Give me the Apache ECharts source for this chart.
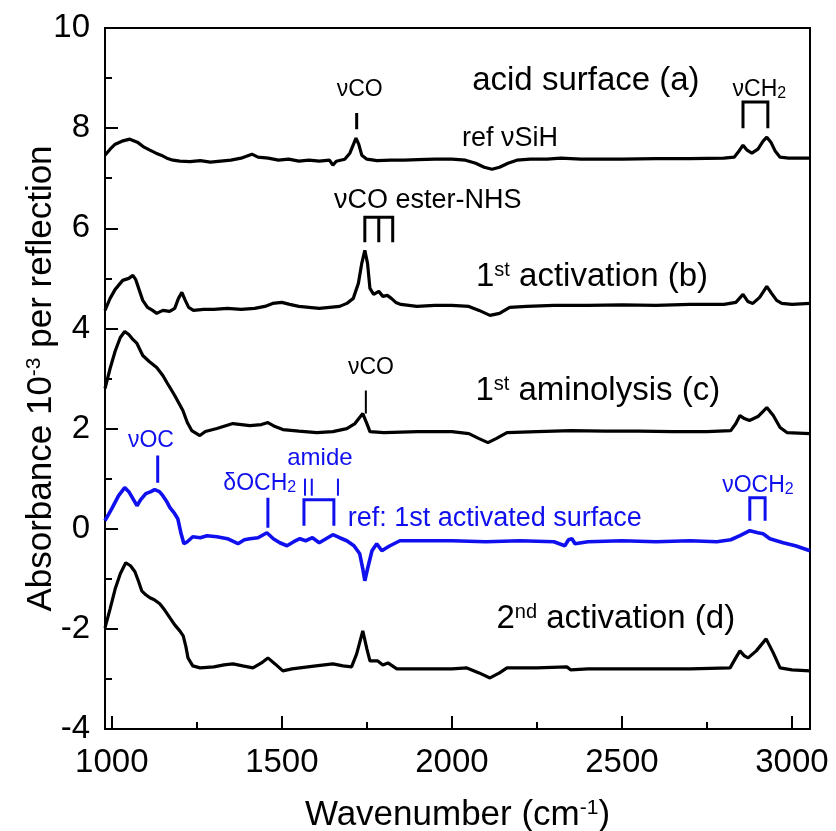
<!DOCTYPE html>
<html>
<head>
<meta charset="utf-8">
<script src="https://cdn.jsdelivr.net/npm/echarts@6/dist/echarts.min.js"></script>
<style>
body{margin:0;background:#fff;}
#main{width:836px;height:831px;}
</style>
</head>
<body>
<div id="main"></div>
<script>
// spectra: [wavenumber, absorbance]
var acidSurface = [[980,7.46],[995,7.58],[1010,7.68],[1030,7.74],[1053,7.78],[1075,7.72],[1095,7.62],[1112,7.56],[1130,7.5],[1145,7.46],[1162,7.4],[1180,7.36],[1200,7.34],[1230,7.33],[1260,7.35],[1290,7.32],[1320,7.34],[1350,7.36],[1380,7.4],[1412,7.48],[1430,7.42],[1460,7.4],[1490,7.36],[1520,7.38],[1550,7.34],[1580,7.36],[1610,7.34],[1640,7.36],[1650,7.26],[1660,7.34],[1685,7.38],[1700,7.5],[1712,7.7],[1718,7.8],[1726,7.68],[1735,7.46],[1750,7.38],[1780,7.35],[1820,7.36],[1860,7.36],[1900,7.37],[1950,7.38],[2000,7.38],[2040,7.36],[2070,7.3],[2095,7.22],[2118,7.18],[2140,7.22],[2165,7.3],[2191,7.36],[2230,7.38],[2280,7.38],[2320,7.4],[2380,7.38],[2450,7.38],[2500,7.38],[2600,7.39],[2700,7.39],[2800,7.4],[2830,7.42],[2845,7.55],[2856,7.66],[2868,7.56],[2882,7.5],[2900,7.58],[2915,7.74],[2926,7.82],[2938,7.72],[2950,7.55],[2965,7.42],[2990,7.4],[3053,7.4]];
var activation1 = [[980,4.36],[995,4.6],[1010,4.78],[1032,4.96],[1050,5.0],[1062,5.06],[1070,4.98],[1080,4.78],[1091,4.56],[1105,4.42],[1120,4.36],[1132,4.3],[1150,4.36],[1170,4.34],[1185,4.4],[1196,4.6],[1206,4.72],[1216,4.56],[1226,4.42],[1240,4.36],[1270,4.38],[1300,4.38],[1340,4.4],[1380,4.38],[1420,4.4],[1450,4.44],[1473,4.5],[1500,4.52],[1523,4.48],[1550,4.44],[1580,4.42],[1610,4.4],[1640,4.42],[1670,4.44],[1691,4.5],[1710,4.6],[1725,4.9],[1735,5.3],[1744,5.56],[1752,5.3],[1759,4.8],[1770,4.68],[1785,4.74],[1797,4.64],[1810,4.66],[1822,4.6],[1835,4.52],[1850,4.48],[1897,4.44],[1950,4.46],[2000,4.46],[2050,4.44],[2080,4.36],[2112,4.26],[2140,4.3],[2170,4.42],[2220,4.44],[2300,4.46],[2400,4.46],[2500,4.47],[2600,4.46],[2700,4.48],[2800,4.48],[2835,4.52],[2856,4.68],[2870,4.54],[2885,4.5],[2905,4.62],[2926,4.84],[2940,4.7],[2955,4.56],[2970,4.5],[3000,4.48],[3053,4.5]];
var aminolysis1 = [[980,2.8],[995,3.2],[1010,3.55],[1025,3.82],[1038,3.94],[1050,3.88],[1062,3.78],[1074,3.7],[1091,3.46],[1110,3.34],[1132,3.22],[1150,3.06],[1162,2.92],[1185,2.66],[1209,2.36],[1222,2.12],[1235,1.96],[1259,1.86],[1275,1.94],[1309,2.0],[1356,2.1],[1406,2.06],[1440,2.08],[1459,2.12],[1480,2.04],[1503,1.98],[1550,1.95],[1603,1.92],[1650,1.94],[1691,2.0],[1715,2.1],[1738,2.3],[1750,2.1],[1759,1.94],[1800,1.92],[1850,1.93],[1900,1.94],[1950,1.94],[2000,1.94],[2050,1.9],[2080,1.8],[2106,1.72],[2130,1.8],[2162,1.92],[2250,1.94],[2350,1.96],[2450,1.95],[2550,1.95],[2650,1.94],[2750,1.94],[2820,1.96],[2835,2.1],[2847,2.26],[2860,2.2],[2875,2.16],[2900,2.24],[2926,2.42],[2945,2.26],[2965,2.02],[2985,1.92],[3053,1.9]];
var refActivated = [[980,0.16],[1000,0.4],[1020,0.66],[1038,0.82],[1050,0.74],[1062,0.6],[1074,0.46],[1085,0.58],[1100,0.7],[1115,0.74],[1126,0.78],[1140,0.74],[1150,0.66],[1160,0.56],[1171,0.42],[1185,0.3],[1194,0.2],[1203,-0.08],[1212,-0.3],[1222,-0.26],[1238,-0.16],[1260,-0.18],[1280,-0.14],[1309,-0.16],[1340,-0.2],[1371,-0.3],[1390,-0.22],[1406,-0.2],[1430,-0.18],[1456,-0.08],[1475,-0.2],[1494,-0.28],[1515,-0.34],[1535,-0.26],[1553,-0.2],[1570,-0.24],[1590,-0.18],[1610,-0.28],[1630,-0.2],[1650,-0.12],[1670,-0.18],[1691,-0.24],[1712,-0.34],[1729,-0.5],[1738,-0.8],[1744,-1.04],[1752,-0.8],[1765,-0.44],[1779,-0.3],[1794,-0.44],[1808,-0.38],[1818,-0.34],[1847,-0.24],[1900,-0.24],[2000,-0.24],[2100,-0.26],[2200,-0.24],[2300,-0.26],[2332,-0.34],[2343,-0.22],[2353,-0.2],[2362,-0.3],[2400,-0.26],[2500,-0.24],[2600,-0.26],[2700,-0.24],[2779,-0.26],[2820,-0.22],[2847,-0.14],[2876,-0.04],[2900,-0.08],[2915,-0.1],[2935,-0.2],[2974,-0.28],[3010,-0.34],[3053,-0.44]];
var activation2 = [[980,-1.98],[995,-1.6],[1010,-1.2],[1025,-0.9],[1041,-0.68],[1055,-0.74],[1068,-0.86],[1078,-1.04],[1088,-1.24],[1100,-1.32],[1112,-1.38],[1125,-1.42],[1141,-1.5],[1155,-1.62],[1171,-1.78],[1185,-1.92],[1200,-2.04],[1210,-2.14],[1218,-2.36],[1224,-2.58],[1238,-2.74],[1260,-2.78],[1300,-2.76],[1330,-2.72],[1356,-2.7],[1385,-2.74],[1415,-2.78],[1440,-2.68],[1459,-2.58],[1480,-2.7],[1503,-2.84],[1530,-2.8],[1553,-2.78],[1600,-2.74],[1650,-2.7],[1680,-2.74],[1705,-2.76],[1720,-2.5],[1738,-2.04],[1750,-2.4],[1759,-2.64],[1782,-2.64],[1797,-2.72],[1812,-2.68],[1838,-2.8],[1900,-2.8],[1950,-2.8],[2000,-2.8],[2044,-2.78],[2080,-2.88],[2112,-2.98],[2140,-2.88],[2162,-2.78],[2250,-2.78],[2338,-2.76],[2350,-2.82],[2400,-2.8],[2500,-2.8],[2600,-2.8],[2700,-2.8],[2818,-2.78],[2833,-2.6],[2847,-2.44],[2860,-2.54],[2871,-2.58],[2895,-2.44],[2924,-2.2],[2945,-2.48],[2965,-2.78],[3000,-2.82],[3053,-2.84]];

var xMajorTicks = [1000,1500,2000,2500,3000];
var xMinorTicks = [1250,1750,2250,2750];

// peak markers (bracket polylines in data units)
var blackMarks = [
	[[1720,7.98],[1720,8.3]],
	[[2856,8.0],[2856,8.52],[2929,8.52],[2929,8.0]],
	[[1744,5.72],[1744,6.22],[1826,6.22],[1826,5.72]],
	[[1785,6.22],[1785,5.72]]
];
var thinBlackMarks = [[[1747,2.3],[1747,2.76]]];
var blueMarks = [
	[[1135,0.92],[1135,1.46]],
	[[1459,0.02],[1459,0.62]],
	[[1565,0.06],[1565,0.58],[1653,0.58],[1653,0.06]],
	[[2876,0.16],[2876,0.62],[2921,0.62],[2921,0.16]]
];
var blueSmallMarks = [[[1568,0.66],[1568,1.0]],[[1588,0.66],[1588,1.0]],[[1665,0.66],[1665,1.0]]];

// text labels: [x, y, text, colour, size]
var labels = [
	[2394,8.94,'{n|acid surface (a)}','#000',33],
	[2171,7.8,'{n|ref \u03bdSiH}','#000',27],
	[1729,8.76,'{n|\u03bdCO}','#000',23],
	[2904,8.76,'{n|\u03bdCH}{b|2}','#000',23],
	[1929,6.56,'{n|\u03bdCO ester-NHS}','#000',27],
	[2412,5.02,'{n|1}{t|st}{n| activation (b)}','#000',33],
	[1762,3.22,'{n|\u03bdCO}','#000',23],
	[2429,2.76,'{n|1}{t|st}{n| aminolysis (c)}','#000',33],
	[1115,1.76,'{n|\u03bdOC}','#1010ee',23],
	[1612,1.4,'{n|amide}','#1010ee',24],
	[1435,0.9,'{n|\u03b4OCH}{b|2}','#1010ee',23],
	[2126,0.2,'{n|ref: 1st activated surface}','#1010ee',27],
	[2900,0.86,'{n|\u03bdOCH}{b|2}','#1010ee',23],
	[2482,-1.8,'{n|2}{t|nd}{n| activation (d)}','#000',33]
];

var font = 'Liberation Sans, Arial, sans-serif';
var blue = '#1010ee';

function spectrum(data, color, width){
	return {type:'line', data:data, showSymbol:false, symbol:'none', smooth:false,
		lineStyle:{color:color, width:width}, z:3};
}
function marks(list, color, width){
	return {type:'lines', coordinateSystem:'cartesian2d', polyline:true, xAxisIndex:0, yAxisIndex:0,
		data:list.map(function(c){ return {coords:c}; }),
		lineStyle:{color:color, width:width, opacity:1}, z:4};
}

var chart = echarts.init(document.getElementById('main'));
var option = {
	animation:false,
	grid:{left:105, top:28, right:26, bottom:102, show:true, borderColor:'#000', borderWidth:2,
		containLabel:false, outerBoundsMode:'none'},
	xAxis:[{
		type:'value', min:980, max:3053, position:'bottom',
		name:'{n|Wavenumber (cm}{s|-1}{n|)}', nameLocation:'middle', nameGap:69, nameMoveOverlap:false,
		nameTextStyle:{fontFamily:font, color:'#000', fontSize:35,
			rich:{n:{fontSize:35, fontFamily:font, color:'#000'}, s:{fontSize:21, fontFamily:font, color:'#000', verticalAlign:'top'}}},
		axisLine:{show:true, onZero:false, lineStyle:{color:'#000', width:2}},
		axisTick:{show:true, inside:true, length:13, customValues:xMajorTicks, lineStyle:{color:'#000', width:2}},
		axisLabel:{customValues:xMajorTicks, fontSize:33, fontFamily:font, color:'#000', margin:17,
			formatter:function(v){ return String(v); }},
		splitLine:{show:false}
	},{
		type:'value', min:980, max:3053, position:'bottom',
		axisLine:{show:false, onZero:false},
		axisTick:{show:true, inside:true, length:7, customValues:xMinorTicks, lineStyle:{color:'#000', width:2}},
		axisLabel:{show:false},
		splitLine:{show:false}
	}],
	yAxis:{
		type:'value', min:-4, max:10, interval:2,
		name:'{n|Absorbance 10}{s|-3}{n| per reflection}', nameLocation:'middle', nameRotate:90, nameGap:46, nameMoveOverlap:false,
		nameTextStyle:{fontFamily:font, color:'#000', fontSize:35,
			rich:{n:{fontSize:35, fontFamily:font, color:'#000'}, s:{fontSize:21, fontFamily:font, color:'#000', verticalAlign:'top'}}},
		axisLine:{show:true, onZero:false, lineStyle:{color:'#000', width:2}},
		axisTick:{show:true, inside:true, length:13, lineStyle:{color:'#000', width:2}},
		minorTick:{show:true, splitNumber:2, length:7, lineStyle:{color:'#000', width:2}},
		axisLabel:{fontSize:33, fontFamily:font, color:'#000', margin:15},
		splitLine:{show:false}
	},
	series:[
		spectrum(acidSurface,'#000',3.2),
		spectrum(activation1,'#000',3.2),
		spectrum(aminolysis1,'#000',3.2),
		spectrum(refActivated,blue,3.6),
		spectrum(activation2,'#000',3.2),
		marks(blackMarks,'#000',3),
		marks(thinBlackMarks,'#000',2),
		marks(blueMarks,blue,3),
		marks(blueSmallMarks,blue,2)
	]
};
chart.setOption(option);

var texts = labels.map(function(l){
	var p = chart.convertToPixel({seriesIndex:0}, [l[0], l[1]]);
	var sz = l[4];
	return {
		type:'text', x:p[0], y:p[1], z:10,
		style:{
			text:l[2], align:'center', verticalAlign:'middle', fill:l[3],
			font:sz+'px '+font,
			rich:{
				n:{fontSize:sz, fontFamily:font, fill:l[3]},
				t:{fontSize:Math.round(sz*0.6), fontFamily:font, fill:l[3], verticalAlign:'top'},
				b:{fontSize:Math.round(sz*0.7), fontFamily:font, fill:l[3], verticalAlign:'bottom'}
			}
		}
	};
});
chart.setOption({graphic:texts});
</script>
</body>
</html>
